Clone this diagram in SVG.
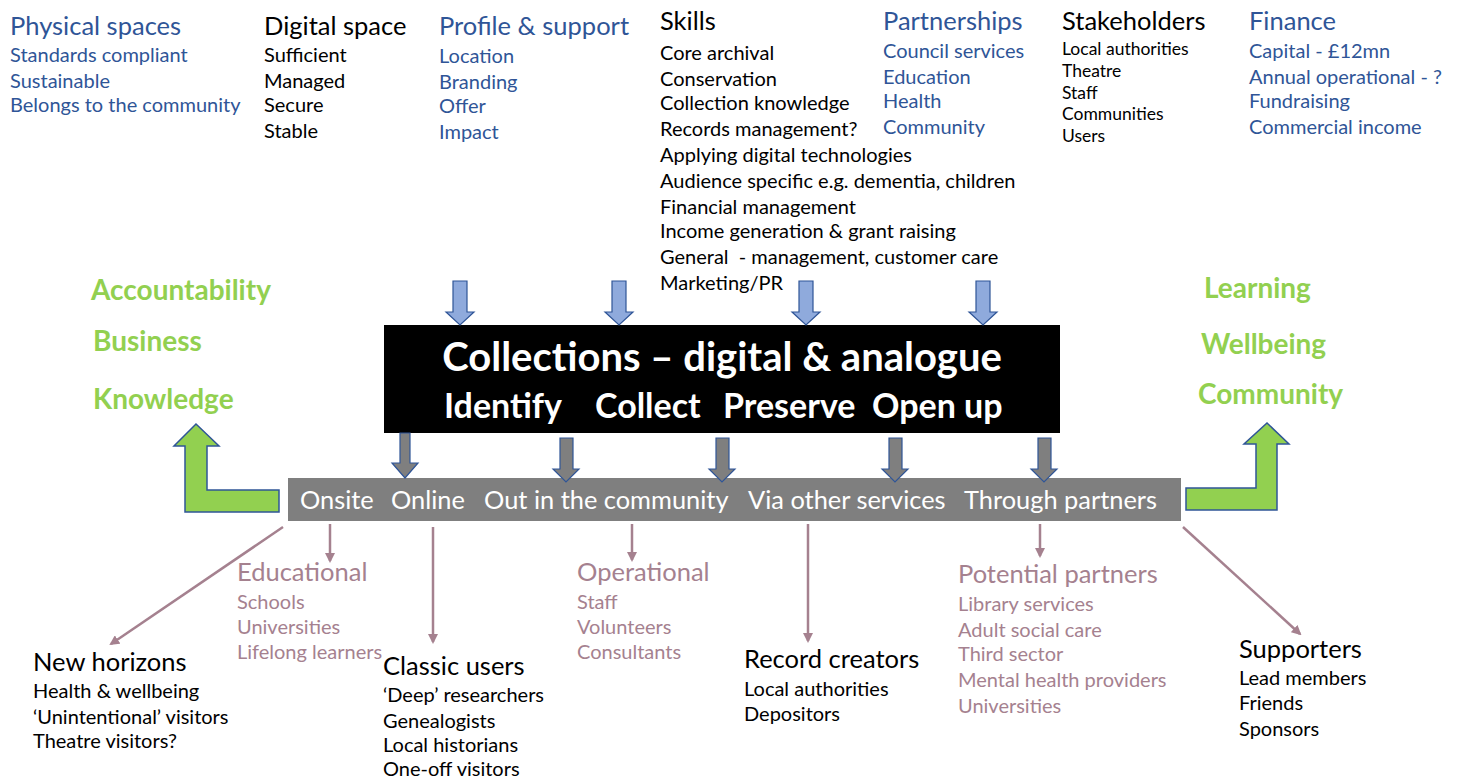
<svg xmlns="http://www.w3.org/2000/svg" width="1457" height="778" viewBox="0 0 1457 778">
<defs>
<style>
text{font-family:Lato,"Open Sans","Liberation Sans",sans-serif}
.h{font-size:25.5px}
.i{font-size:20px}
.s{font-size:17.5px}
.blue{fill:#2F5597}
.blk{fill:#000}
.mv{fill:#A5818F}
.grn{fill:#92D050;font-weight:bold;font-size:28px}
.wb{fill:#fff;font-weight:bold}
.wt{fill:#fff;font-size:25.4px}
.barrow{fill:#8FAADC;stroke:#2F5597;stroke-width:1.2}
.garrow{fill:#7F7F7F;stroke:#2F5597;stroke-width:1.2}
.larrow{fill:#92D050;stroke:#2F5597;stroke-width:1.5}
.conn{stroke:#A5818F;stroke-width:2.5;fill:none;marker-end:url(#ah)}
</style>
<marker id="ah" viewBox="0 0 10 10" refX="8" refY="5" markerWidth="4" markerHeight="4" orient="auto" markerUnits="strokeWidth">
<path d="M0,0 L10,5 L0,10 Z" fill="#A5818F"/>
</marker>
</defs>
<rect width="1457" height="778" fill="#fff"/>

<g id="physical-spaces" class="blue">
<text class="h" x="10" y="35">Physical spaces</text>
<text class="i" x="10" y="62">Standards compliant</text>
<text class="i" x="10" y="88">Sustainable</text>
<text class="i" x="10" y="112">Belongs to the community</text>
</g>
<g id="digital-space" class="blk">
<text class="h" x="264" y="35">Digital space</text>
<text class="i" x="264" y="62">Sufficient</text>
<text class="i" x="264" y="88">Managed</text>
<text class="i" x="264" y="112">Secure</text>
<text class="i" x="264" y="138">Stable</text>
</g>
<g id="profile-support" class="blue">
<text class="h" x="439" y="35">Profile &amp; support</text>
<text class="i" x="439" y="63">Location</text>
<text class="i" x="439" y="89">Branding</text>
<text class="i" x="439" y="113">Offer</text>
<text class="i" x="439" y="139">Impact</text>
</g>
<g id="skills" class="blk">
<text class="h" x="660" y="30">Skills</text>
<text class="i" x="660" y="60">Core archival</text>
<text class="i" x="660" y="86">Conservation</text>
<text class="i" x="660" y="110">Collection knowledge</text>
<text class="i" x="660" y="136">Records management?</text>
<text class="i" x="660" y="162">Applying digital technologies</text>
<text class="i" x="660" y="188">Audience specific e.g. dementia, children</text>
<text class="i" x="660" y="214">Financial management</text>
<text class="i" x="660" y="238">Income generation &amp; grant raising</text>
<text class="i" x="660" y="264" xml:space="preserve">General  - management, customer care</text>
<text class="i" x="660" y="290">Marketing/PR</text>
</g>
<g id="partnerships" class="blue">
<text class="h" x="883" y="30">Partnerships</text>
<text class="i" x="883" y="58">Council services</text>
<text class="i" x="883" y="84">Education</text>
<text class="i" x="883" y="108">Health</text>
<text class="i" x="883" y="134">Community</text>
</g>
<g id="stakeholders" class="blk">
<text class="h" x="1062" y="30">Stakeholders</text>
<text class="s" x="1062" y="55">Local authorities</text>
<text class="s" x="1062" y="77">Theatre</text>
<text class="s" x="1062" y="99">Staff</text>
<text class="s" x="1062" y="120">Communities</text>
<text class="s" x="1062" y="142">Users</text>
</g>
<g id="finance" class="blue">
<text class="h" x="1249" y="30">Finance</text>
<text class="i" x="1249" y="58">Capital - £12mn</text>
<text class="i" x="1249" y="84">Annual operational - ?</text>
<text class="i" x="1249" y="108">Fundraising</text>
<text class="i" x="1249" y="134">Commercial income</text>
</g>

<g id="outcomes-left">
<text class="grn" x="91" y="300">Accountability</text>
<text class="grn" x="93" y="351">Business</text>
<text class="grn" x="93" y="409">Knowledge</text>
</g>
<g id="outcomes-right">
<text class="grn" x="1204" y="298">Learning</text>
<text class="grn" x="1201" y="354">Wellbeing</text>
<text class="grn" x="1198" y="404">Community</text>
</g>

<g id="collections">
<rect x="384" y="325" width="676" height="108" fill="#000"/>
<text class="wb" x="722" y="371" font-size="40" text-anchor="middle">Collections – digital &amp; analogue</text>
<text class="wb" x="444" y="418" font-size="34">Identify</text>
<text class="wb" x="595" y="418" font-size="34">Collect</text>
<text class="wb" x="723" y="418" font-size="34">Preserve</text>
<text class="wb" x="872" y="418" font-size="34">Open up</text>
</g>

<g id="channels">
<rect x="288" y="478" width="893" height="43" fill="#7F7F7F"/>
<text class="wt" x="300" y="509">Onsite</text>
<text class="wt" x="391" y="509">Online</text>
<text class="wt" x="484" y="509">Out in the community</text>
<text class="wt" x="748" y="509">Via other services</text>
<text class="wt" x="964" y="509">Through partners</text>
</g>

<g id="new-horizons" class="blk">
<text class="h" x="33" y="671">New horizons</text>
<text class="i" x="33" y="698">Health &amp; wellbeing</text>
<text class="i" x="33" y="724">‘Unintentional’ visitors</text>
<text class="i" x="33" y="748">Theatre visitors?</text>
</g>
<g id="educational" class="mv">
<text class="h" x="237" y="581">Educational</text>
<text class="i" x="237" y="609">Schools</text>
<text class="i" x="237" y="634">Universities</text>
<text class="i" x="237" y="659">Lifelong learners</text>
</g>
<g id="classic-users" class="blk">
<text class="h" x="383" y="675">Classic users</text>
<text class="i" x="383" y="702">‘Deep’ researchers</text>
<text class="i" x="383" y="728">Genealogists</text>
<text class="i" x="383" y="752">Local historians</text>
<text class="i" x="383" y="776">One-off visitors</text>
</g>
<g id="operational" class="mv">
<text class="h" x="577" y="581">Operational</text>
<text class="i" x="577" y="609">Staff</text>
<text class="i" x="577" y="634">Volunteers</text>
<text class="i" x="577" y="659">Consultants</text>
</g>
<g id="record-creators" class="blk">
<text class="h" x="744" y="668">Record creators</text>
<text class="i" x="744" y="696">Local authorities</text>
<text class="i" x="744" y="721">Depositors</text>
</g>
<g id="potential-partners" class="mv">
<text class="h" x="958" y="583">Potential partners</text>
<text class="i" x="958" y="611">Library services</text>
<text class="i" x="958" y="637">Adult social care</text>
<text class="i" x="958" y="661">Third sector</text>
<text class="i" x="958" y="687">Mental health providers</text>
<text class="i" x="958" y="713">Universities</text>
</g>
<g id="supporters" class="blk">
<text class="h" x="1239" y="658">Supporters</text>
<text class="i" x="1239" y="685">Lead members</text>
<text class="i" x="1239" y="710">Friends</text>
<text class="i" x="1239" y="736">Sponsors</text>
</g>

<g id="connectors">
<path class="barrow" d="M453,281 H467 V312 H474 L460,325 L446,312 H453 Z"/>
<path class="barrow" d="M612,281 H626 V312 H633 L619,325 L605,312 H612 Z"/>
<path class="barrow" d="M799,281 H813 V312 H820 L806,325 L792,312 H799 Z"/>
<path class="barrow" d="M976,281 H990 V312 H997 L983,325 L969,312 H976 Z"/>

<path class="garrow" d="M400,433 H410 V463 H418 L405,478 L392,463 H400 Z"/>
<path class="garrow" d="M560,438 H573 V469 H579 L566,482 L553,469 H560 Z"/>
<path class="garrow" d="M716,438 H729 V469 H735 L722,482 L709,469 H716 Z"/>
<path class="garrow" d="M889,438 H902 V469 H908 L895,482 L882,469 H889 Z"/>
<path class="garrow" d="M1038,438 H1051 V469 H1057 L1044,482 L1031,469 H1038 Z"/>

<path class="larrow" d="M185,512 L279,512 L279,490 L207,490 L207,446 L219,446 L196,424 L174,446 L185,446 Z"/>
<path class="larrow" d="M1186,488 L1256,488 L1256,444 L1244,444 L1267,423 L1289,444 L1277,444 L1277,510 L1186,510 Z"/>

<line class="conn" x1="283" y1="527" x2="111" y2="644"/>
<line class="conn" x1="330" y1="524" x2="330" y2="561"/>
<line class="conn" x1="433" y1="527" x2="433" y2="642"/>
<line class="conn" x1="632" y1="524" x2="632" y2="560"/>
<line class="conn" x1="808" y1="524" x2="808" y2="641"/>
<line class="conn" x1="1040" y1="524" x2="1040" y2="556"/>
<line class="conn" x1="1183" y1="527" x2="1300" y2="634"/>
</g>
</svg>
